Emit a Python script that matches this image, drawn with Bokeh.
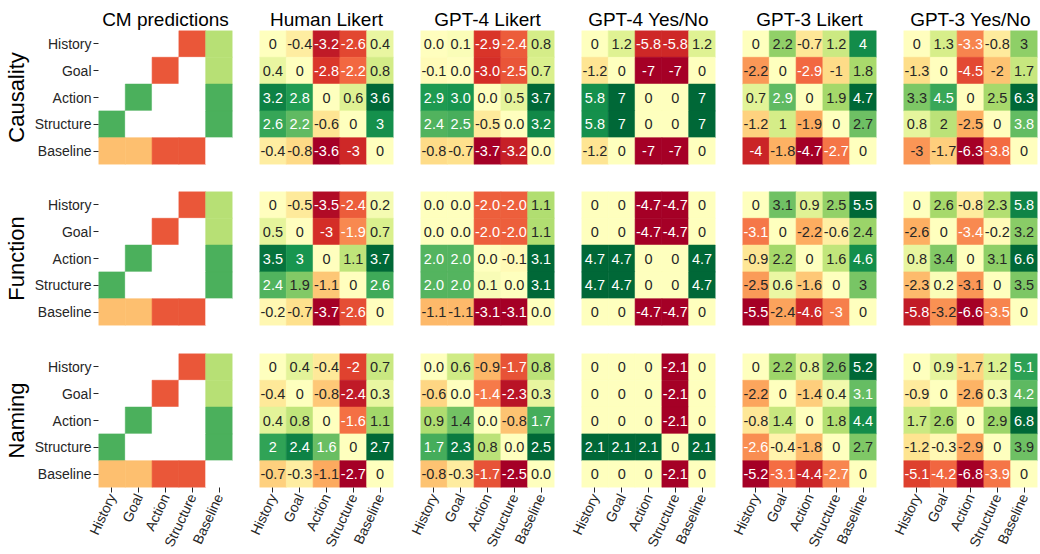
import numpy as np
from bokeh.plotting import figure
from bokeh.layouts import gridplot
from bokeh.models import ColumnDataSource, LinearColorMapper
from bokeh.transform import transform
from bokeh.core.properties import value
from bokeh.embed import file_html
from bokeh.resources import INLINE

conditions = ["History", "Goal", "Action", "Structure", "Baseline"]
tasks = ["Causality", "Function", "Naming"]
panel_titles = ["CM predictions", "Human Likert", "GPT-4 Likert",
                "GPT-4 Yes/No", "GPT-3 Likert", "GPT-3 Yes/No"]

NA = float("nan")
cm_predictions = [
    [NA, NA, NA, -2, 1],
    [NA, NA, -2, NA, 1],
    [NA, 2, NA, NA, 2],
    [2, NA, NA, NA, 2],
    [-1, -1, -2, -2, NA],
]

# ---- Causality ----
causality_human = [
    [0, -0.4, -3.2, -2.6, 0.4],
    [0.4, 0, -2.8, -2.2, 0.8],
    [3.2, 2.8, 0, 0.6, 3.6],
    [2.6, 2.2, -0.6, 0, 3],
    [-0.4, -0.8, -3.6, -3, 0],
]
causality_gpt4_likert = [
    [0.0, 0.1, -2.9, -2.4, 0.8],
    [-0.1, 0.0, -3.0, -2.5, 0.7],
    [2.9, 3.0, 0.0, 0.5, 3.7],
    [2.4, 2.5, -0.5, 0.0, 3.2],
    [-0.8, -0.7, -3.7, -3.2, 0.0],
]
causality_gpt4_yesno = [
    [0, 1.2, -5.8, -5.8, 1.2],
    [-1.2, 0, -7, -7, 0],
    [5.8, 7, 0, 0, 7],
    [5.8, 7, 0, 0, 7],
    [-1.2, 0, -7, -7, 0],
]
causality_gpt3_likert = [
    [0, 2.2, -0.7, 1.2, 4],
    [-2.2, 0, -2.9, -1, 1.8],
    [0.7, 2.9, 0, 1.9, 4.7],
    [-1.2, 1, -1.9, 0, 2.7],
    [-4, -1.8, -4.7, -2.7, 0],
]
causality_gpt3_yesno = [
    [0, 1.3, -3.3, -0.8, 3],
    [-1.3, 0, -4.5, -2, 1.7],
    [3.3, 4.5, 0, 2.5, 6.3],
    [0.8, 2, -2.5, 0, 3.8],
    [-3, -1.7, -6.3, -3.8, 0],
]

# ---- Function ----
function_human = [
    [0, -0.5, -3.5, -2.4, 0.2],
    [0.5, 0, -3, -1.9, 0.7],
    [3.5, 3, 0, 1.1, 3.7],
    [2.4, 1.9, -1.1, 0, 2.6],
    [-0.2, -0.7, -3.7, -2.6, 0],
]
function_gpt4_likert = [
    [0.0, 0.0, -2.0, -2.0, 1.1],
    [0.0, 0.0, -2.0, -2.0, 1.1],
    [2.0, 2.0, 0.0, -0.1, 3.1],
    [2.0, 2.0, 0.1, 0.0, 3.1],
    [-1.1, -1.1, -3.1, -3.1, 0.0],
]
function_gpt4_yesno = [
    [0, 0, -4.7, -4.7, 0],
    [0, 0, -4.7, -4.7, 0],
    [4.7, 4.7, 0, 0, 4.7],
    [4.7, 4.7, 0, 0, 4.7],
    [0, 0, -4.7, -4.7, 0],
]
function_gpt3_likert = [
    [0, 3.1, 0.9, 2.5, 5.5],
    [-3.1, 0, -2.2, -0.6, 2.4],
    [-0.9, 2.2, 0, 1.6, 4.6],
    [-2.5, 0.6, -1.6, 0, 3],
    [-5.5, -2.4, -4.6, -3, 0],
]
function_gpt3_yesno = [
    [0, 2.6, -0.8, 2.3, 5.8],
    [-2.6, 0, -3.4, -0.2, 3.2],
    [0.8, 3.4, 0, 3.1, 6.6],
    [-2.3, 0.2, -3.1, 0, 3.5],
    [-5.8, -3.2, -6.6, -3.5, 0],
]

# ---- Naming ----
naming_human = [
    [0, 0.4, -0.4, -2, 0.7],
    [-0.4, 0, -0.8, -2.4, 0.3],
    [0.4, 0.8, 0, -1.6, 1.1],
    [2, 2.4, 1.6, 0, 2.7],
    [-0.7, -0.3, -1.1, -2.7, 0],
]
naming_gpt4_likert = [
    [0.0, 0.6, -0.9, -1.7, 0.8],
    [-0.6, 0.0, -1.4, -2.3, 0.3],
    [0.9, 1.4, 0.0, -0.8, 1.7],
    [1.7, 2.3, 0.8, 0.0, 2.5],
    [-0.8, -0.3, -1.7, -2.5, 0.0],
]
naming_gpt4_yesno = [
    [0, 0, 0, -2.1, 0],
    [0, 0, 0, -2.1, 0],
    [0, 0, 0, -2.1, 0],
    [2.1, 2.1, 2.1, 0, 2.1],
    [0, 0, 0, -2.1, 0],
]
naming_gpt3_likert = [
    [0, 2.2, 0.8, 2.6, 5.2],
    [-2.2, 0, -1.4, 0.4, 3.1],
    [-0.8, 1.4, 0, 1.8, 4.4],
    [-2.6, -0.4, -1.8, 0, 2.7],
    [-5.2, -3.1, -4.4, -2.7, 0],
]
naming_gpt3_yesno = [
    [0, 0.9, -1.7, 1.2, 5.1],
    [-0.9, 0, -2.6, 0.3, 4.2],
    [1.7, 2.6, 0, 2.9, 6.8],
    [-1.2, -0.3, -2.9, 0, 3.9],
    [-5.1, -4.2, -6.8, -3.9, 0],
]

panels = [
    [cm_predictions, causality_human, causality_gpt4_likert, causality_gpt4_yesno,
     causality_gpt3_likert, causality_gpt3_yesno],
    [cm_predictions, function_human, function_gpt4_likert, function_gpt4_yesno,
     function_gpt3_likert, function_gpt3_yesno],
    [cm_predictions, naming_human, naming_gpt4_likert, naming_gpt4_yesno,
     naming_gpt3_likert, naming_gpt3_yesno],
]
value_formats = [None, "{:g}", "{:.1f}", "{:g}", "{:g}", "{:g}"]

# RdYlGn colormap, interpolated to 256 steps
RDYLGN = ["#a50026", "#d73027", "#f46d43", "#fdae61", "#fee08b", "#ffffbf",
          "#d9ef8b", "#a6d96a", "#66bd63", "#1a9850", "#006837"]
_anch = np.array([[int(c[i:i + 2], 16) for i in (1, 3, 5)] for c in RDYLGN], float)
_pos = np.linspace(0, 1, len(RDYLGN))
N = 256
PALETTE_RGB = []
for k in range(N):
    t = k / (N - 1)
    PALETTE_RGB.append(tuple(int(round(np.interp(t, _pos, _anch[:, j]))) for j in range(3)))
PALETTE = ["#%02x%02x%02x" % c for c in PALETTE_RGB]


def luminance(rgb):
    out = []
    for c in rgb:
        c = c / 255.0
        out.append(c / 12.92 if c <= 0.03928 else ((c + 0.055) / 1.055) ** 2.4)
    return 0.2126 * out[0] + 0.7152 * out[1] + 0.0722 * out[2]


FONT = "Liberation Sans"
TEXT_DARK = "#262626"

lefts = [92, 14, 14, 14, 14, 14]
rights = [13, 13, 13, 13, 13, 1]
tops = [30, 14, 14]
bottoms = [13, 14, 66]

grid = []
for r in range(3):
    row_figs = []
    for c in range(6):
        mat = panels[r][c]
        p = figure(x_range=conditions, y_range=conditions[::-1],
                   frame_width=134, frame_height=134,
                   min_border_left=lefts[c], min_border_right=rights[c],
                   min_border_top=tops[r], min_border_bottom=bottoms[r],
                   x_axis_location="below" if r == 2 else None,
                   y_axis_location="left" if c == 0 else None,
                   toolbar_location=None, tools="", output_backend="svg",
                   title=panel_titles[c] if r == 0 else None)
        p.outline_line_color = None
        p.grid.visible = False
        p.background_fill_color = "white"
        p.border_fill_color = "white"
        if r == 0:
            p.title.text_font = FONT
            p.title.text_font_size = "19px"
            p.title.text_font_style = "normal"
            p.title.text_color = "black"
            p.title.align = "center"
            p.title.standoff = 2
            p.title.offset = 0

        if c == 0:
            lo, hi = -3.0, 3.0
        else:
            m = max(abs(v) for row in mat for v in row)
            lo, hi = -m, m
        mapper = LinearColorMapper(palette=PALETTE, low=lo, high=hi, nan_color="white")

        xs, ys, vs, labels, tcolors = [], [], [], [], []
        for i, rowname in enumerate(conditions):
            for j, colname in enumerate(conditions):
                v = mat[i][j]
                xs.append(colname)
                ys.append(rowname)
                vs.append(v)
                if c > 0:
                    labels.append(value_formats[c].format(v))
                    idx = int(np.floor((v - lo) / (hi - lo) * N))
                    idx = min(max(idx, 0), N - 1)
                    tcolors.append(TEXT_DARK if luminance(PALETTE_RGB[idx]) > 0.408 else "white")
                else:
                    labels.append("")
                    tcolors.append(TEXT_DARK)
        src = ColumnDataSource(dict(x=xs, y=ys, v=vs, label=labels, tc=tcolors))
        p.rect(x="x", y="y", width=1, height=1, source=src,
               fill_color=transform("v", mapper), line_color=transform("v", mapper),
               line_width=0.6)
        if c > 0:
            p.text(x="x", y="y", text="label", source=src, text_color="tc",
                   text_align="center", text_baseline="middle",
                   text_font=value(FONT), text_font_size="14.5px")

        for ax in p.axis:
            ax.axis_line_color = None
            ax.major_tick_line_color = TEXT_DARK
            ax.major_tick_line_width = 1
            ax.major_tick_out = 5
            ax.major_tick_in = 0
            ax.minor_tick_line_color = None
            ax.major_label_text_font = FONT
            ax.major_label_text_font_size = "14px"
            ax.major_label_text_color = TEXT_DARK
            ax.major_label_standoff = 2
        if c == 0:
            p.yaxis.axis_label = tasks[r]
            p.yaxis.axis_label_text_font = FONT
            p.yaxis.axis_label_text_font_size = "22px"
            p.yaxis.axis_label_text_font_style = "normal"
            p.yaxis.axis_label_text_color = "black"
            p.yaxis.axis_label_standoff = 3
        if r == 2:
            p.xaxis.major_label_orientation = np.deg2rad(65)
            p.xaxis.major_label_text_font_size = "14px"
            p.xaxis.major_tick_out = 5
            p.xaxis.major_label_standoff = 2
        row_figs.append(p)
    grid.append(row_figs)

layout = gridplot(grid, toolbar_location=None)
open("out.html", "w").write(file_html(layout, INLINE))
